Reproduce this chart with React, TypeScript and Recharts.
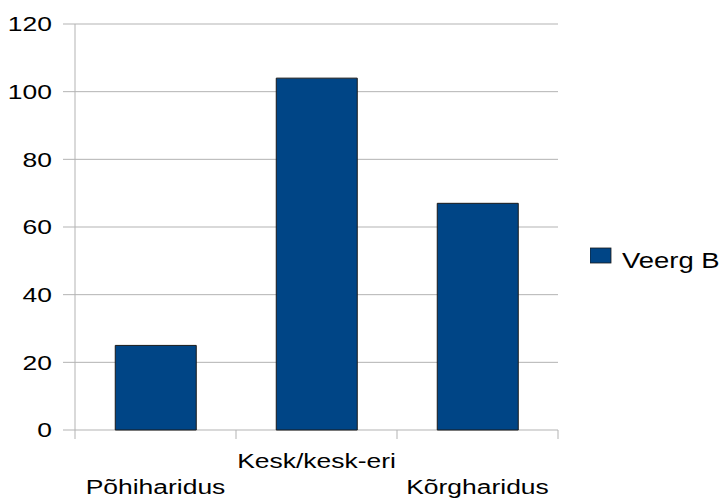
import React from 'react';
import { BarChart, Bar, XAxis, YAxis, CartesianGrid } from 'recharts';

const categories = ['Põhiharidus', 'Kesk/kesk-eri', 'Kõrgharidus'];
const veergB = [25, 104, 67];
const yTicks = [0, 20, 40, 60, 80, 100, 120];
const seriesName = 'Veerg B';

const data = categories.map((name, i) => ({ name, value: veergB[i] }));

const BLUE = '#004586';
const GRID = '#b3b3b3';
const FONT = '"Liberation Sans", Arial, sans-serif';
const STRETCH = 1.26;

// x labels alternate rows, plus the tick marks sit on the category boundaries
const CategoryTick = (props: any) => {
    const { x, y, payload, index } = props;
    const half = payload.offset || 0;
    const row = index % 2 === 1 ? 38 : 64;
    return (
        <g>
            <line x1={x - half} x2={x - half} y1={y} y2={y + 9} stroke={GRID} />
            {index === categories.length - 1 && (
                <line x1={x + half} x2={x + half} y1={y} y2={y + 9} stroke={GRID} />
            )}
            <g transform={`translate(${x},${y + row}) scale(${STRETCH},1)`}>
                <text textAnchor="middle" fontFamily={FONT} fontSize={21} fill="#000">
                    {payload.value}
                </text>
            </g>
        </g>
    );
};

const ValueTick = (props: any) => {
    const { x, y, payload } = props;
    return (
        <g transform={`translate(${x},${y}) scale(${STRETCH},1)`}>
            <text textAnchor="end" dy="0.35em" fontFamily={FONT} fontSize={21} fill="#000">
                {payload.value}
            </text>
        </g>
    );
};

const LegendBox = () => (
    <svg width={135} height={30} style={{ position: 'absolute', left: 590, top: 245 }}>
        <rect x={0} y={3} width={21} height={15} fill={BLUE} stroke="#1a1a1a" strokeWidth={0.8} />
        <g transform={`translate(32,23) scale(1.22,1)`}>
            <text fontFamily={FONT} fontSize={22.5} fill="#000">{seriesName}</text>
        </g>
    </svg>
);

export default function App() {
    return (
        <div style={{ position: 'absolute', left: 0, top: 0, width: 725, height: 500, background: '#fff' }}>
            <BarChart
                width={725}
                height={500}
                data={data}
                margin={{ top: 24, right: 167, bottom: 0, left: 0 }}
                barCategoryGap="25%"
            >
                <CartesianGrid vertical={false} stroke={GRID} />
                <XAxis
                    dataKey="name"
                    height={70}
                    axisLine={false}
                    tickLine={false}
                    tickSize={0}
                    tickMargin={0}
                    interval={0}
                    tick={<CategoryTick />}
                />
                <YAxis
                    width={75}
                    domain={[0, 120]}
                    ticks={yTicks}
                    interval={0}
                    axisLine={{ stroke: GRID }}
                    tickLine={{ stroke: GRID }}
                    tickSize={12}
                    tickMargin={11}
                    tick={<ValueTick />}
                />
                <YAxis
                    yAxisId="right"
                    orientation="right"
                    width={0}
                    domain={[0, 120]}
                    tick={false}
                    tickLine={false}
                    axisLine={{ stroke: GRID }}
                />
                <Bar
                    dataKey="value"
                    name={seriesName}
                    fill={BLUE}
                    stroke="#1a1a1a"
                    strokeWidth={1}
                    isAnimationActive={false}
                />
            </BarChart>
            <LegendBox />
        </div>
    );
}
